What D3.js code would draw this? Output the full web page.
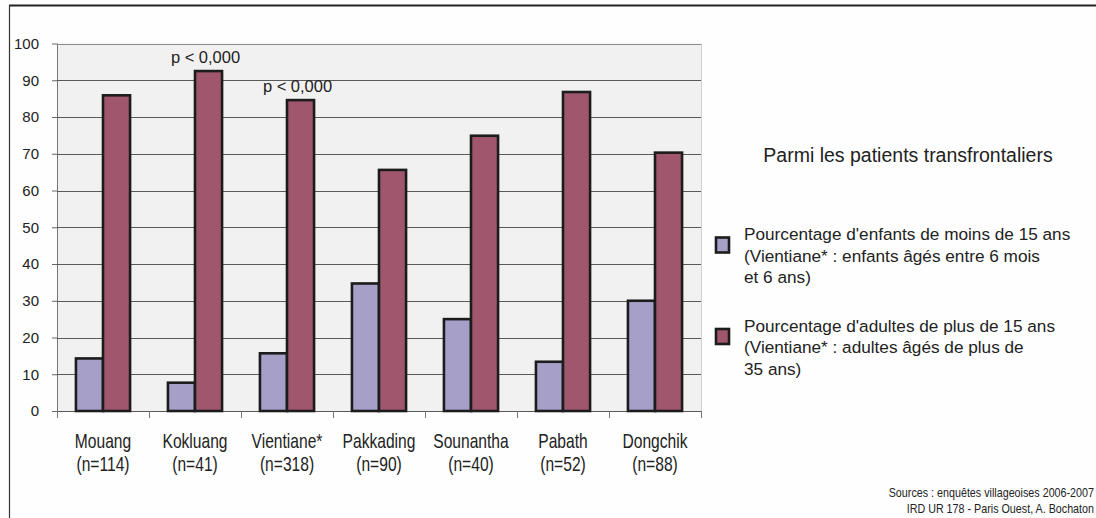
<!DOCTYPE html>
<html><head><meta charset="utf-8">
<script src="https://cdn.jsdelivr.net/npm/d3@7"></script>
<style>
html,body{margin:0;padding:0;background:#fefefe;}
svg{display:block;}
</style></head>
<body>
<svg id="chart" width="1096" height="518"></svg>
<script>
const categories = ["Mouang","Kokluang","Vientiane*","Pakkading","Sounantha","Pabath","Dongchik"];
const sampleSizes = ["(n=114)","(n=41)","(n=318)","(n=90)","(n=40)","(n=52)","(n=88)"];
const enfants = [14.3, 7.7, 15.7, 34.7, 25.0, 13.4, 30.0];
const adultes = [85.9, 92.5, 84.6, 65.6, 74.9, 86.8, 70.3];
const yTicks = [0,10,20,30,40,50,60,70,80,90,100];
const annotations = [{cat:"Kokluang", text:"p < 0,000"},{cat:"Vientiane*", text:"p < 0,000"}];
const seriesNames = ["enfants","adultes"];
const legendTitle = "Parmi les patients transfrontaliers";
const legendLines = [
  ["Pourcentage d'enfants de moins de 15 ans","(Vientiane* : enfants âgés entre 6 mois","et 6 ans)"],
  ["Pourcentage d'adultes de plus de 15 ans","(Vientiane* : adultes âgés de plus de","35 ans)"]
];
const sources = ["Sources : enquêtes villageoises 2006-2007","IRD UR 178 - Paris Ouest, A. Bochaton"];

(function(){
const colors = {enfants:"#a6a0c9", adultes:"#a0576e"};
const svg = d3.select("#chart");
const font = "'Liberation Sans', Arial, sans-serif";

// frame
svg.append("line").attr("x1",9).attr("x2",1096).attr("y1",5.5).attr("y2",5.5).attr("stroke","#222").attr("stroke-width",2);
svg.append("line").attr("x1",9.5).attr("x2",9.5).attr("y1",5).attr("y2",518).attr("stroke","#333").attr("stroke-width",1.2);

const pLeft=57, pRight=701, pTop=43.5, pBottom=411;
const x = d3.scaleBand().domain(categories).range([pLeft,pRight]).padding(0);
const x1 = d3.scaleBand().domain(seriesNames).range([0,x.bandwidth()]).paddingInner(0).paddingOuter(0.7);
const y = d3.scaleLinear().domain([0,100]).range([pBottom,pTop]);

svg.append("rect").attr("x",pLeft).attr("y",pTop).attr("width",pRight-pLeft).attr("height",pBottom-pTop).attr("fill","#f2f1f1");
svg.append("line").attr("x1",pRight+0.5).attr("x2",pRight+0.5).attr("y1",pTop).attr("y2",pBottom).attr("stroke","#cfcfcf");

// y axis
const yAxis = d3.axisLeft(y).tickValues(yTicks).tickSize(5).tickPadding(13);
const gy = svg.append("g").attr("transform",`translate(${pLeft},0)`).call(yAxis);
gy.select(".domain").attr("stroke","#777").attr("d",`M0.5,${pTop}V${pBottom+7}`);
gy.selectAll(".tick line").attr("stroke","#666");
gy.selectAll(".tick text").attr("font-family",font).attr("font-size",15).attr("fill","#222");
// gridlines
svg.append("g").selectAll("line").data(yTicks).join("line")
  .attr("x1",pLeft).attr("x2",pRight).attr("y1",d=>Math.round(y(d))+0.5).attr("y2",d=>Math.round(y(d))+0.5)
  .attr("stroke",d=>d===100?"#8a8a8a":"#5a5a5a").attr("stroke-width",1);

// x axis ticks
const xTickPos = categories.map(c=>x(c)).concat([pRight]);
svg.append("g").selectAll("line").data(xTickPos).join("line")
  .attr("x1",d=>Math.round(d)+0.5).attr("x2",d=>Math.round(d)+0.5).attr("y1",pBottom).attr("y2",pBottom+7).attr("stroke","#777");

// bars
const g = svg.append("g");
categories.forEach((c,i)=>{
  const vals = {enfants:enfants[i], adultes:adultes[i]};
  seriesNames.forEach(s=>{
    g.append("rect")
      .attr("x",x(c)+x1(s)).attr("y",y(vals[s]))
      .attr("width",x1.bandwidth()).attr("height",pBottom-y(vals[s]))
      .attr("fill",colors[s]).attr("stroke","#1c1c1c").attr("stroke-width",2.6);
  });
});

// annotations
annotations.forEach(a=>{
  const i = categories.indexOf(a.cat);
  svg.append("text").attr("x",x(a.cat)+x1("adultes")+x1.bandwidth()/2-3).attr("y",y(adultes[i])-8)
    .attr("text-anchor","middle").attr("font-family",font).attr("font-size",16.5).attr("fill","#222").text(a.text);
});

// condensed text helper
function cText(px, py, t, size, sx, anchor){
  svg.append("g").attr("transform",`translate(${px},${py}) scale(${sx},1)`)
    .append("text").attr("x",0).attr("y",0).attr("text-anchor",anchor).attr("font-family",font)
    .attr("font-size",size).attr("fill","#222").text(t);
}

// category labels
categories.forEach((c,i)=>{
  const cx = x(c)+x.bandwidth()/2;
  cText(cx, 448, c, 20, 0.78, "middle");
  cText(cx, 471, sampleSizes[i], 20, 0.78, "middle");
});

// legend
svg.append("text").attr("x",908).attr("y",162).attr("text-anchor","middle").attr("font-family",font).attr("font-size",19.5).attr("fill","#222").text(legendTitle);
const legY = [240, 331.5];
seriesNames.forEach((s,k)=>{
  svg.append("rect").attr("x",716).attr("y",legY[k]-2.5).attr("width",13).attr("height",15)
    .attr("fill",colors[s]).attr("stroke","#1c1c1c").attr("stroke-width",2.6);
  legendLines[k].forEach((t,j)=>{
    svg.append("text").attr("x",744).attr("y",legY[k]+j*21.7).attr("font-family",font).attr("font-size",17.2).attr("fill","#222").text(t);
  });
});

// sources
sources.forEach((t,j)=>{
  cText(1094, 497+j*16, t, 12.5, 0.86, "end");
});
})();
</script>
</body></html>
